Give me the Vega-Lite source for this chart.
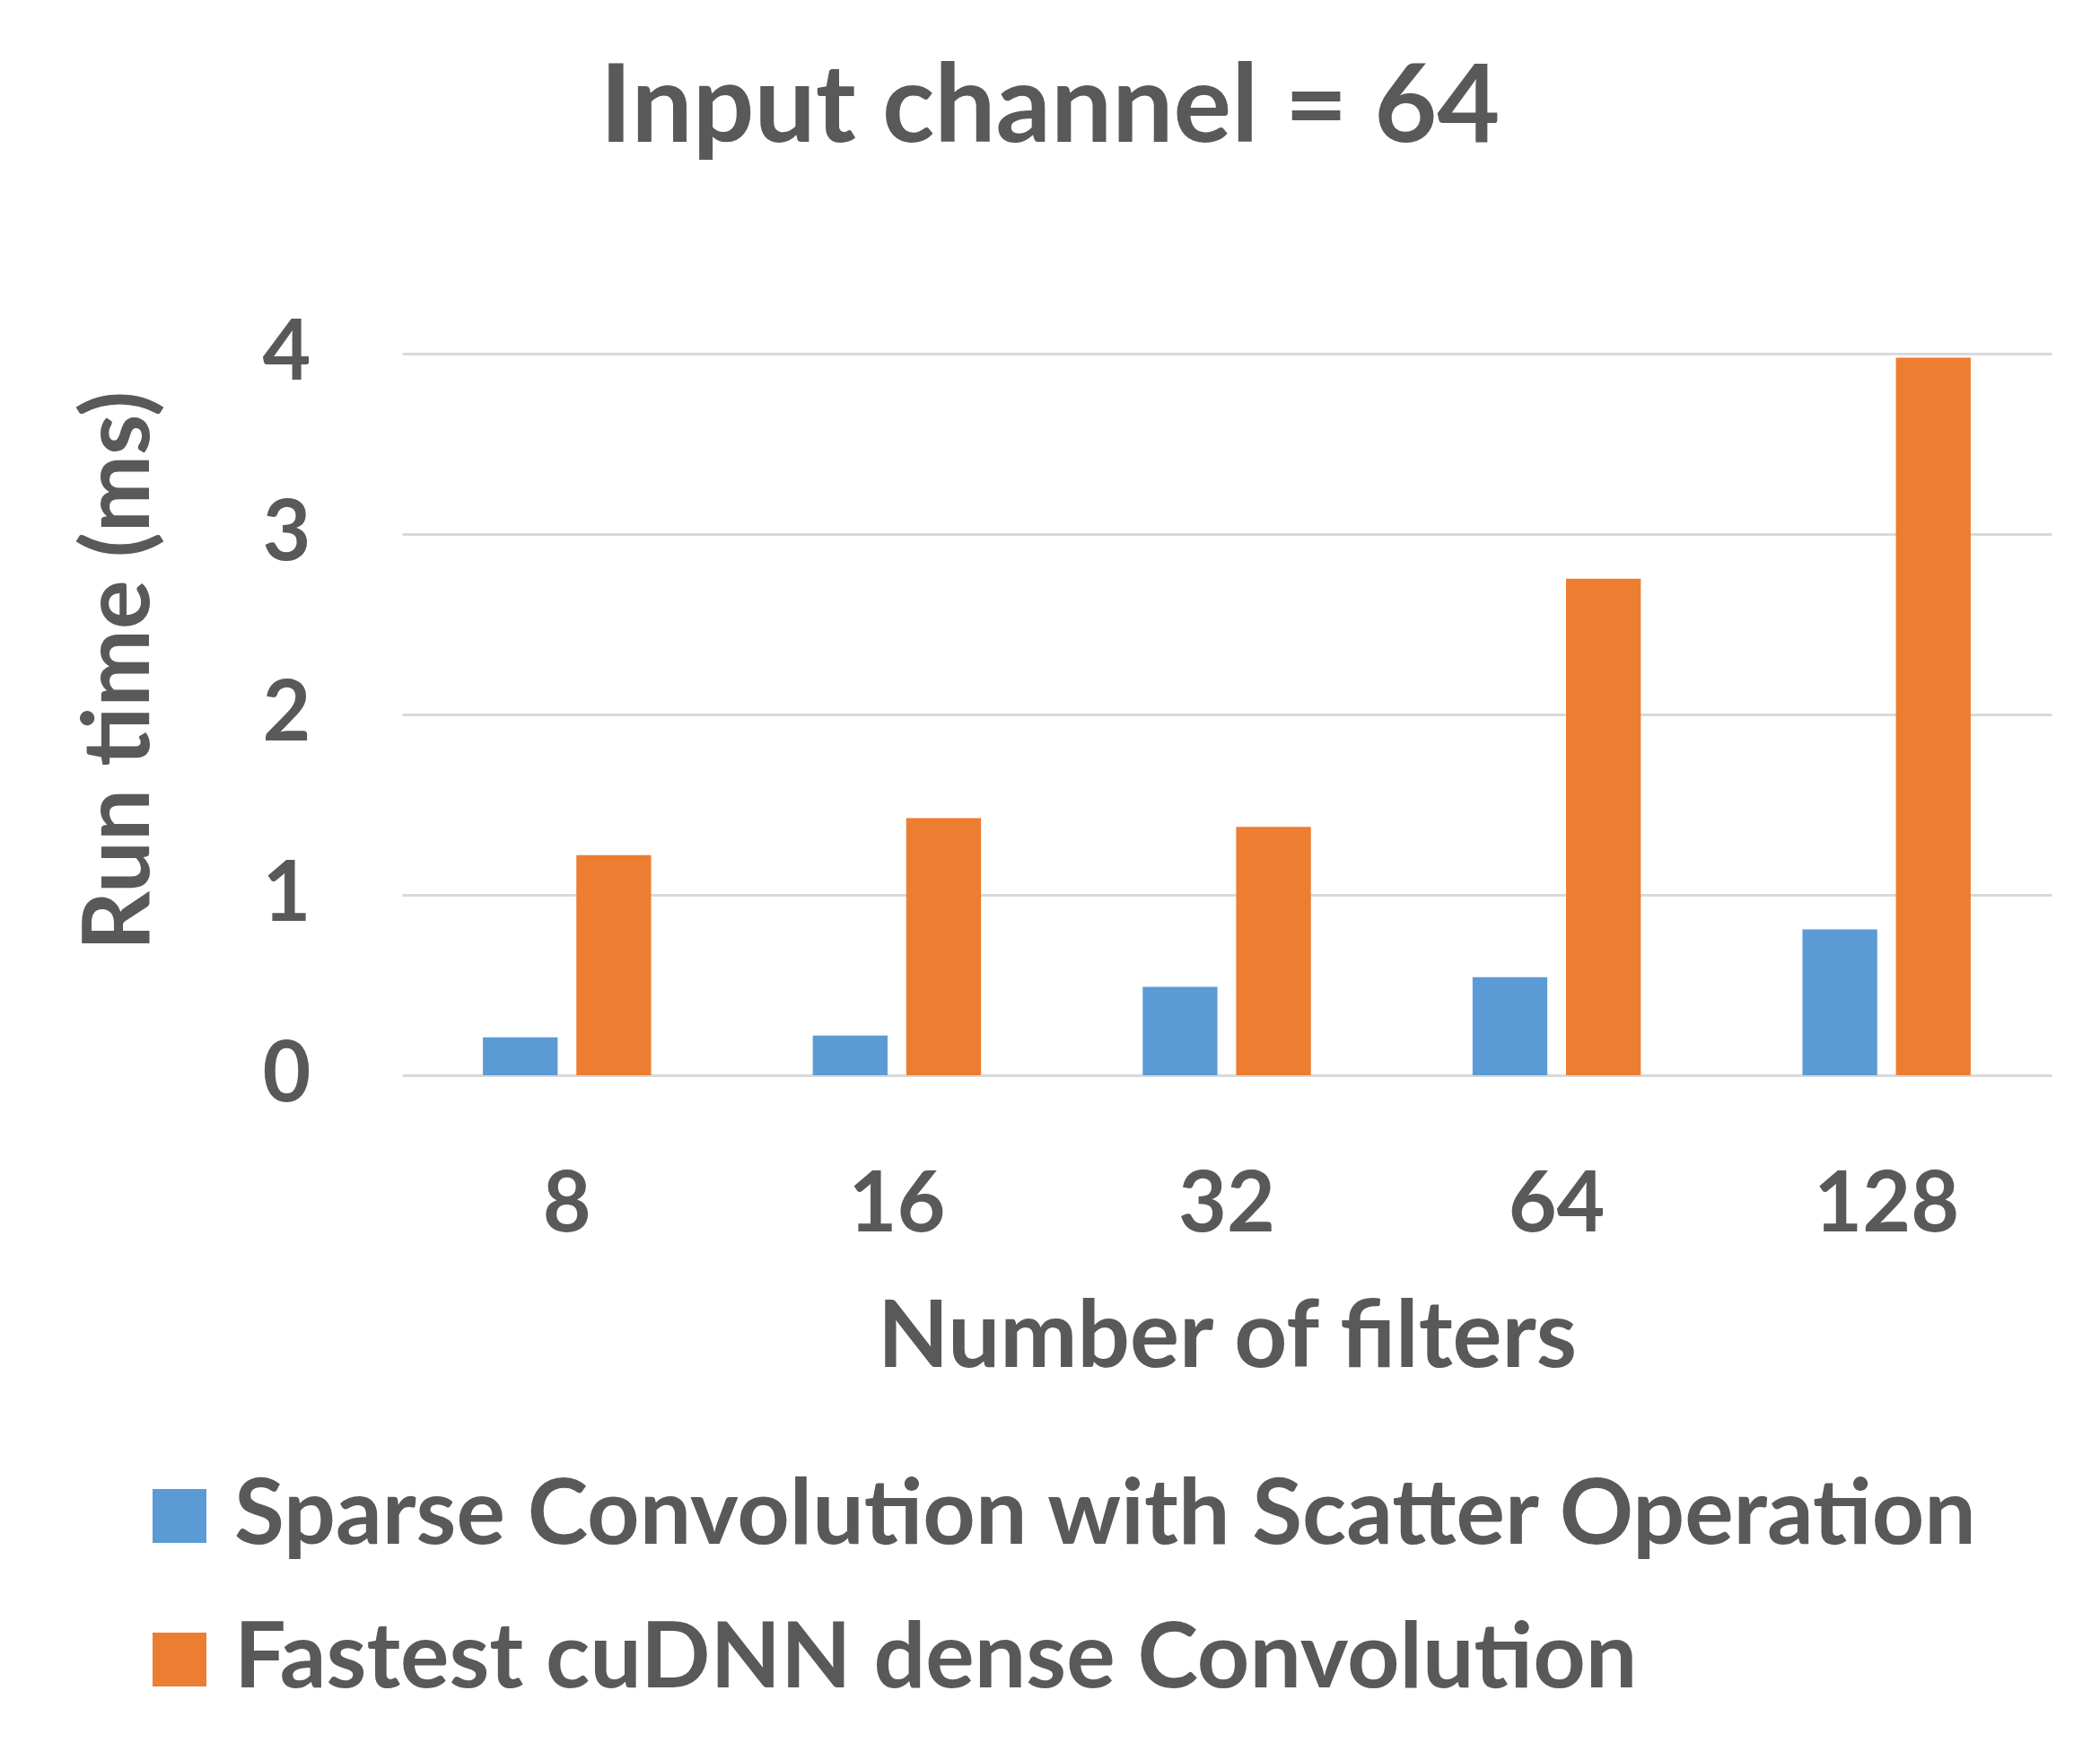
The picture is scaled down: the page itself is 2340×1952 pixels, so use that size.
{
  "$schema": "https://vega.github.io/schema/vega-lite/v6.json",
  "width": 1838,
  "height": 804,
  "autosize": {"type": "none"},
  "padding": {"left": 448, "top": 394, "right": 54, "bottom": 754},
  "background": "white",
  "title": {
    "text": "Input channel = 64",
    "font": "Lato",
    "fontWeight": "bold",
    "fontSize": 121,
    "color": "#595959",
    "anchor": "middle",
    "dx": -197,
    "offset": 165
  },
  "data": {
    "values": [
      {"filters": "8", "series": "Sparse Convolution with Scatter Operation", "time": 0.21},
      {"filters": "8", "series": "Fastest cuDNN dense Convolution", "time": 1.22},
      {"filters": "16", "series": "Sparse Convolution with Scatter Operation", "time": 0.22},
      {"filters": "16", "series": "Fastest cuDNN dense Convolution", "time": 1.425},
      {"filters": "32", "series": "Sparse Convolution with Scatter Operation", "time": 0.49},
      {"filters": "32", "series": "Fastest cuDNN dense Convolution", "time": 1.377},
      {"filters": "64", "series": "Sparse Convolution with Scatter Operation", "time": 0.544},
      {"filters": "64", "series": "Fastest cuDNN dense Convolution", "time": 2.752},
      {"filters": "128", "series": "Sparse Convolution with Scatter Operation", "time": 0.809},
      {"filters": "128", "series": "Fastest cuDNN dense Convolution", "time": 3.978}
    ]
  },
  "mark": {"type": "bar"},
  "encoding": {
    "x": {
      "field": "filters",
      "type": "ordinal",
      "sort": null,
      "scale": {"paddingInner": 0.49, "paddingOuter": 0.245},
      "axis": {
        "title": "Number of filters",
        "labelAngle": 0,
        "labelFont": "Lato",
        "labelFontWeight": "bold",
        "labelFontSize": 93,
        "labelColor": "#595959",
        "labelPadding": 100,
        "labelBaseline": "top",
        "ticks": false,
        "domain": false,
        "titleFont": "Lato",
        "titleFontWeight": "bold",
        "titleFontSize": 103,
        "titleColor": "#595959",
        "titleBaseline": "alphabetic",
        "titleY": 324
      }
    },
    "xOffset": {
      "field": "series",
      "type": "nominal",
      "sort": ["Sparse Convolution with Scatter Operation", "Fastest cuDNN dense Convolution"],
      "scale": {"paddingInner": 0.2, "paddingOuter": 0}
    },
    "y": {
      "field": "time",
      "type": "quantitative",
      "scale": {"domain": [0, 4], "nice": false},
      "axis": {
        "title": "Run time (ms)",
        "values": [0, 1, 2, 3, 4],
        "format": "d",
        "labelFont": "Lato",
        "labelFontWeight": "bold",
        "labelFontSize": 93,
        "labelColor": "#595959",
        "labelPadding": 102,
        "labelBaseline": "middle",
        "ticks": false,
        "domain": false,
        "grid": true,
        "gridColor": "#d9d9d9",
        "gridWidth": 3,
        "titleFont": "Lato",
        "titleFontWeight": "bold",
        "titleFontSize": 103,
        "titleColor": "#595959",
        "titleAngle": -90,
        "titleAlign": "center",
        "titleBaseline": "middle",
        "titleX": -314,
        "titleY": 353
      }
    },
    "color": {
      "field": "series",
      "type": "nominal",
      "sort": ["Sparse Convolution with Scatter Operation", "Fastest cuDNN dense Convolution"],
      "scale": {
        "domain": ["Sparse Convolution with Scatter Operation", "Fastest cuDNN dense Convolution"],
        "range": ["#5B9BD5", "#ED7D31"]
      },
      "legend": {
        "title": null,
        "orient": "none",
        "legendX": -299,
        "legendY": 1244,
        "direction": "vertical",
        "symbolType": "square",
        "symbolSize": 3600,
        "symbolStrokeWidth": 0,
        "symbolOpacity": 1,
        "labelFont": "Lato",
        "labelFontWeight": "bold",
        "labelFontSize": 102,
        "labelColor": "#595959",
        "labelOffset": 10,
        "labelLimit": 2200,
        "rowPadding": 58
      }
    }
  },
  "config": {
    "view": {"stroke": null}
  }
}
